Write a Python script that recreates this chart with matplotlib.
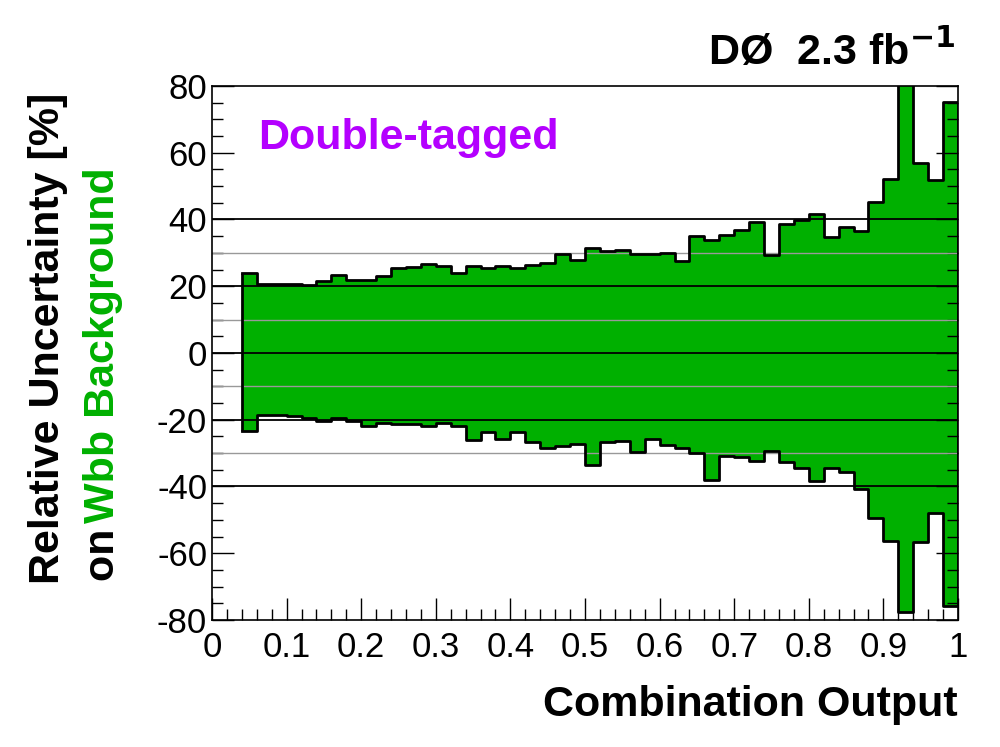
import numpy as np
import matplotlib
matplotlib.use("Agg")
import matplotlib.pyplot as plt
from matplotlib.ticker import MultipleLocator

bin_edges_start = 0.04
bin_width = 0.02
upper = [23.9, 20.7, 20.7, 20.8, 20.5, 21.6, 23.4, 22.0, 22.0, 23.2, 25.6, 25.8,
         26.5, 26.1, 23.9, 25.9, 25.6, 25.9, 25.6, 26.3, 26.9, 29.6, 27.9, 31.3,
         30.6, 30.8, 29.7, 29.5, 29.9, 27.4, 34.9, 33.7, 35.3, 36.9, 39.1, 29.4,
         38.7, 39.9, 41.6, 34.7, 37.7, 36.4, 45.3, 52.2, 95.0, 56.8, 51.8, 75.3]
lower = [-23.3, -18.6, -18.6, -18.8, -19.4, -20.4, -19.6, -20.4, -21.8, -20.9, -21.2, -21.2,
         -21.9, -20.9, -22.0, -26.1, -23.6, -25.8, -23.7, -26.6, -28.6, -27.8, -27.3, -33.7,
         -26.8, -26.3, -29.8, -25.8, -27.6, -28.6, -30.1, -38.1, -30.9, -31.1, -32.3, -29.4,
         -32.7, -34.4, -38.3, -34.4, -35.6, -40.8, -49.4, -56.3, -77.7, -56.6, -48.0, -75.7]

n = len(upper)
edges = bin_edges_start + bin_width * np.arange(n + 1)
up = np.array(upper + [upper[-1]])
lo = np.array(lower + [lower[-1]])

plt.rcParams["font.family"] = "Liberation Sans"
plt.rcParams["axes.unicode_minus"] = False
fig = plt.figure(figsize=(10, 7.47), dpi=100)
ax = fig.add_axes([0.212, 0.170, 0.746, 0.715])
green = "#00b000"
ax.fill_between(edges, lo, up, step="post", color=green, lw=0, zorder=1)
for arr in (up, lo):
    ax.step(edges, arr, where="post", color="black", lw=2, zorder=3)
ax.vlines([edges[0]], lower[0], upper[0], color="black", lw=2, zorder=3)
ax.vlines([edges[-1]], lower[-1], upper[-1], color="black", lw=2, zorder=3)
for v in (-40, -20, 0, 20, 40):
    ax.axhline(v, color="black", lw=1.3, zorder=2)
for v in (-30, -10, 10, 30):
    ax.axhline(v, color="#999999", lw=1.0, zorder=2)

ax.set_xlim(0, 1)
ax.set_ylim(-80, 80)
ax.xaxis.set_minor_locator(MultipleLocator(0.02))
ax.yaxis.set_major_locator(MultipleLocator(20))
ax.yaxis.set_minor_locator(MultipleLocator(5))
ax.set_xticks(np.arange(0, 1.01, 0.1))
ax.set_xticklabels(["0", "0.1", "0.2", "0.3", "0.4", "0.5", "0.6", "0.7", "0.8", "0.9", "1"])
ax.tick_params(which="both", direction="in", top=False, right=True, labelsize=25, width=1)
ax.tick_params(which="major", length=16)
ax.tick_params(which="minor", length=8)
ax.tick_params(axis="x", pad=8)
for s in ax.spines.values():
    s.set_linewidth(1.2)
    s.set_zorder(4)

fig.text(0.958, 0.056, "Combination Output", ha="right", va="center", fontsize=31, fontweight="bold")
fig.text(0.048, 0.547, "Relative Uncertainty [%]", rotation=90, ha="center", va="center",
         fontsize=31, fontweight="bold")
fig.text(0.103, 0.222, "on ", rotation=90, ha="center", va="bottom", fontsize=31, fontweight="bold")
fig.text(0.103, 0.300, "Wbb Background", rotation=90, ha="center", va="bottom", fontsize=31,
         fontweight="bold", color=green)
fig.text(0.955, 0.930, r"DØ  2.3 fb$^{\mathbf{-1}}$", ha="right", va="center", fontsize=31, fontweight="bold")
fig.text(0.258, 0.815, "Double-tagged", ha="left", va="center", fontsize=31, fontweight="bold", color="#b400ff")

fig.savefig("out.png", dpi=100)
